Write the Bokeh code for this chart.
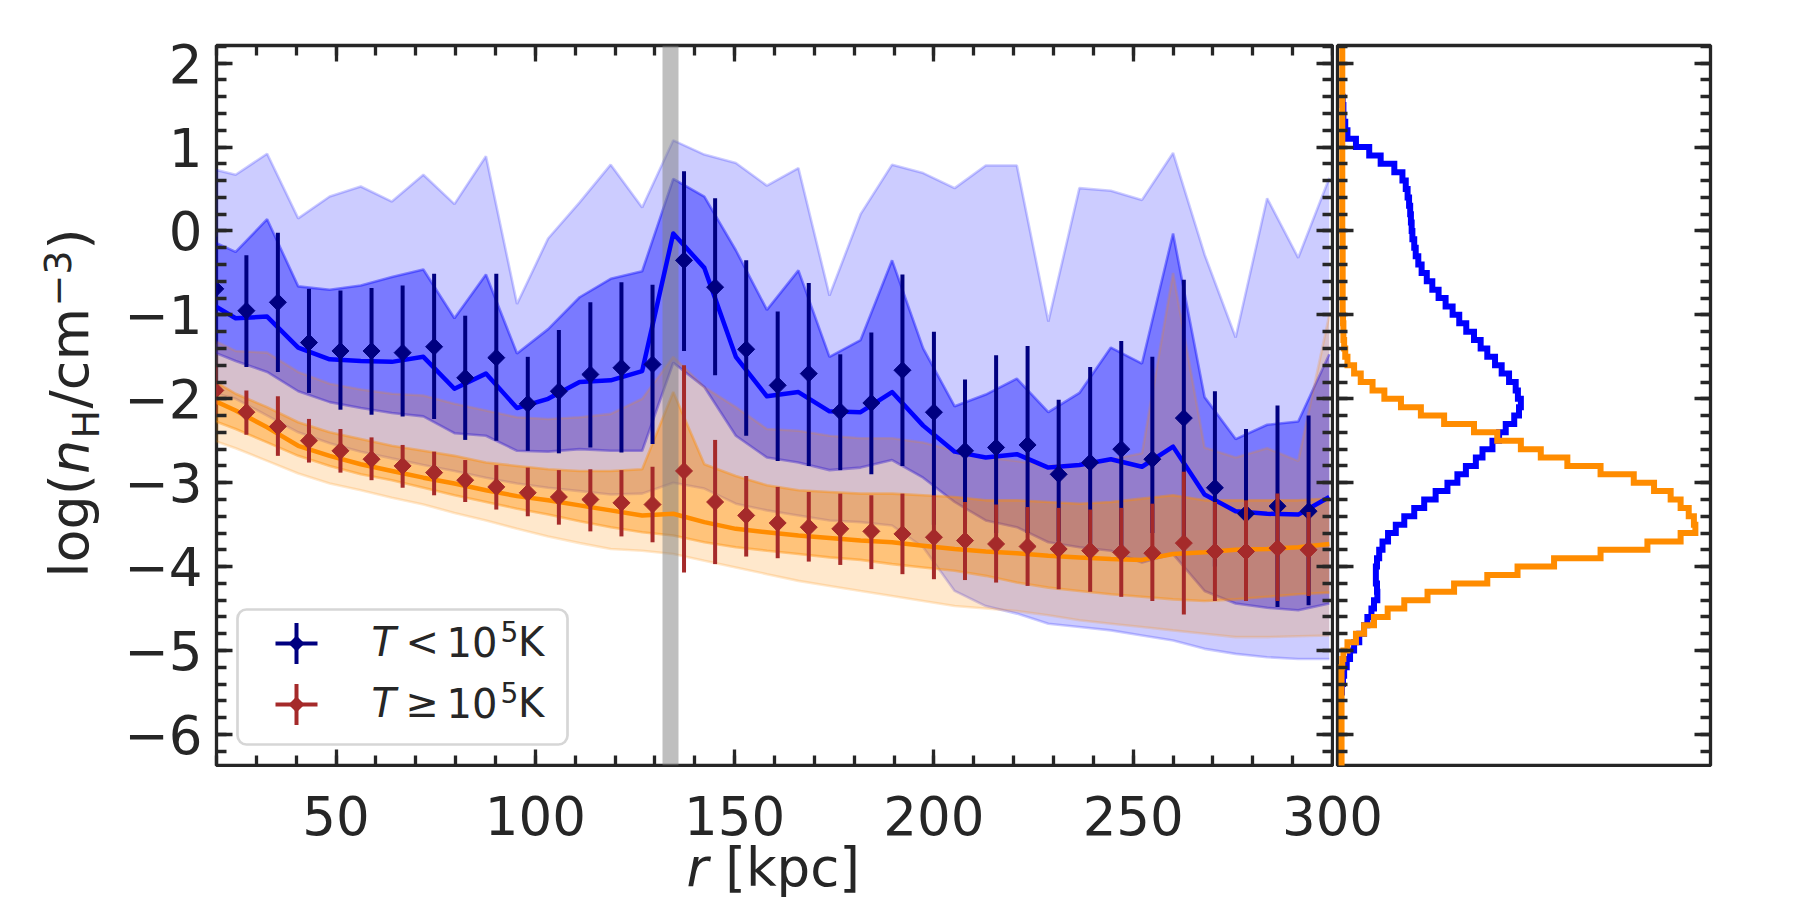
import numpy as np
from bokeh.plotting import figure
from bokeh.models import (Range1d, SingleIntervalTicker, LinearAxis, Label, BoxAnnotation,
                          PolyAnnotation, CustomJSTickFormatter, ColumnDataSource)
from bokeh.layouts import row, column
from bokeh.embed import file_html
from bokeh.resources import INLINE

# ---------------- data ----------------
# radial profile vertices [kpc]
r_profile = [17.0, 24.8, 32.7, 40.5, 48.4, 56.2, 64.0, 71.9, 79.7, 87.6, 95.4, 103.2, 111.1,
             118.9, 126.8, 134.6, 142.4, 150.3, 158.1, 166.0, 173.8, 181.6, 189.5, 197.3,
             205.2, 213.0, 220.8, 228.7, 236.5, 244.4, 252.2, 260.0, 267.9, 275.7, 283.6,
             291.4, 299.2]
# T < 1e5 K : median and percentile bands
cold_median = [-0.82, -1.04, -1.02, -1.39, -1.53, -1.55, -1.56, -1.50, -1.88, -1.70, -2.11, -2.00,
               -1.80, -1.78, -1.67, -0.03, -0.44, -1.50, -1.97, -1.92, -2.15, -2.16, -1.92, -2.32,
               -2.63, -2.70, -2.66, -2.82, -2.79, -2.72, -2.81, -2.57, -3.14, -3.34, -3.37, -3.38, -3.17]
cold_in_hi = [-0.08, -0.25, 0.14, -0.66, -0.70, -0.65, -0.55, -0.46, -1.04, -0.52, -1.46, -1.17,
              -0.79, -0.57, -0.48, 0.62, 0.41, -0.23, -0.94, -0.47, -1.50, -1.30, -0.35, -1.40,
              -2.09, -1.95, -1.76, -2.16, -1.93, -1.39, -1.58, -0.03, -1.98, -2.48, -2.31, -2.27, -1.47]
cold_in_lo = [-1.40, -1.55, -1.68, -1.91, -2.04, -2.11, -2.17, -2.21, -2.41, -2.44, -2.62, -2.63,
              -2.60, -2.62, -2.62, -1.57, -1.86, -2.44, -2.70, -2.76, -2.85, -2.82, -2.73, -2.94,
              -3.23, -3.45, -3.53, -3.71, -3.77, -3.81, -3.95, -3.85, -4.29, -4.44, -4.49, -4.52, -4.44]
cold_out_hi = [0.76, 0.67, 0.92, 0.15, 0.41, 0.53, 0.35, 0.67, 0.32, 0.89, -0.87, -0.09,
               0.34, 0.79, 0.28, 1.08, 0.91, 0.81, 0.54, 0.75, -0.77, 0.20, 0.79, 0.69,
               0.51, 0.78, 0.78, -1.08, 0.51, 0.48, 0.37, 0.93, -0.28, -1.27, 0.39, -0.32, 0.63]
cold_out_lo = [-1.90, -2.00, -2.20, -2.40, -2.53, -2.63, -2.71, -2.79, -2.86, -2.94, -3.01, -3.06,
               -3.10, -3.14, -3.13, -3.00, -3.07, -3.25, -3.33, -3.39, -3.45, -3.47, -3.51, -3.77,
               -4.29, -4.47, -4.56, -4.68, -4.72, -4.76, -4.82, -4.88, -4.98, -5.04, -5.08, -5.10, -5.10]
# T >= 1e5 K : median and percentile bands
hot_median = [-1.97, -2.14, -2.34, -2.56, -2.68, -2.78, -2.86, -2.94, -3.01, -3.09, -3.16, -3.21,
              -3.27, -3.33, -3.39, -3.37, -3.47, -3.55, -3.59, -3.63, -3.66, -3.69, -3.71, -3.75,
              -3.79, -3.82, -3.84, -3.87, -3.89, -3.91, -3.92, -3.85, -3.83, -3.80, -3.79, -3.77, -3.73]
hot_in_hi = [-1.72, -1.94, -2.10, -2.28, -2.40, -2.48, -2.56, -2.62, -2.68, -2.76, -2.80, -2.84,
             -2.86, -2.86, -2.84, -1.92, -2.78, -2.92, -3.03, -3.09, -3.11, -3.13, -3.13, -3.15,
             -3.17, -3.21, -3.21, -3.23, -3.25, -3.23, -3.19, -3.15, -3.21, -3.21, -3.21, -3.21, -3.19]
hot_in_lo = [-2.22, -2.36, -2.52, -2.68, -2.80, -2.90, -2.97, -3.06, -3.15, -3.23, -3.31, -3.38,
             -3.46, -3.53, -3.59, -3.63, -3.71, -3.77, -3.81, -3.85, -3.89, -3.92, -3.97, -4.01,
             -4.05, -4.11, -4.19, -4.25, -4.29, -4.33, -4.36, -4.39, -4.41, -4.39, -4.36, -4.33, -4.31]
hot_out_hi = [-1.25, -1.43, -1.45, -1.68, -1.82, -1.89, -1.94, -1.96, -2.06, -2.14, -2.22, -2.24,
              -2.22, -2.18, -2.00, -1.50, -1.86, -2.10, -2.36, -2.38, -2.44, -2.47, -2.47, -2.52,
              -2.62, -2.70, -2.74, -2.80, -2.78, -2.72, -2.65, -0.50, -2.58, -2.70, -2.59, -2.74, -1.00]
hot_out_lo = [-2.46, -2.59, -2.74, -2.89, -3.01, -3.09, -3.18, -3.26, -3.36, -3.45, -3.55, -3.64,
              -3.72, -3.79, -3.81, -3.85, -3.93, -4.01, -4.09, -4.17, -4.23, -4.29, -4.35, -4.41,
              -4.47, -4.50, -4.53, -4.58, -4.64, -4.68, -4.72, -4.76, -4.80, -4.84, -4.84, -4.83, -4.82]

# error-bar points
r_points = [19.7, 27.5, 35.4, 43.2, 51.1, 58.9, 66.7, 74.6, 82.4, 90.2, 98.1, 105.9, 113.8, 121.6,
            129.4, 137.3, 145.1, 152.9, 160.8, 168.6, 176.5, 184.3, 192.1, 200.0, 207.8, 215.6,
            223.5, 231.3, 239.2, 247.0, 254.8, 262.7, 270.5, 278.3, 286.2, 294.0]
cold_mean = [-0.69, -0.95, -0.85, -1.33, -1.43, -1.43, -1.45, -1.38, -1.75, -1.51, -2.06, -1.91,
             -1.71, -1.63, -1.59, -0.35, -0.67, -1.41, -1.84, -1.70, -2.15, -2.05, -1.66, -2.16,
             -2.62, -2.58, -2.55, -2.90, -2.76, -2.60, -2.72, -2.23, -3.06, -3.37, -3.28, -3.34]
cold_hi = [-0.07, -0.29, -0.02, -0.69, -0.71, -0.68, -0.65, -0.51, -1.01, -0.51, -1.50, -1.18,
           -0.85, -0.61, -0.64, 0.71, 0.39, -0.35, -0.96, -0.62, -1.47, -1.21, -0.52, -1.20,
           -1.77, -1.48, -1.37, -2.01, -1.62, -1.31, -1.50, -0.58, -1.91, -2.36, -2.08, -2.20]
cold_lo = [-1.34, -1.62, -1.68, -1.93, -2.13, -2.19, -2.21, -2.24, -2.49, -2.50, -2.62, -2.65,
           -2.58, -2.64, -2.54, -1.43, -1.72, -2.44, -2.74, -2.80, -2.85, -2.90, -2.80, -3.50,
           -3.50, -3.60, -3.60, -3.70, -3.80, -3.77, -3.60, -3.80, -4.00, -4.20, -4.48, -4.46]
hot_mean = [-1.90, -2.16, -2.33, -2.50, -2.62, -2.72, -2.80, -2.88, -2.97, -3.05, -3.12, -3.17,
            -3.20, -3.24, -3.26, -2.86, -3.23, -3.39, -3.48, -3.53, -3.55, -3.58, -3.61, -3.65,
            -3.69, -3.73, -3.76, -3.79, -3.81, -3.83, -3.84, -3.72, -3.82, -3.82, -3.78, -3.80]
hot_hi = [-1.60, -1.90, -1.97, -2.24, -2.36, -2.46, -2.55, -2.63, -2.73, -2.79, -2.82, -2.85,
          -2.84, -2.85, -2.81, -1.60, -2.49, -2.92, -3.05, -3.11, -3.13, -3.15, -3.13, -3.15,
          -3.23, -3.26, -3.29, -3.30, -3.32, -3.30, -3.25, -2.87, -3.23, -3.21, -3.13, -3.35]
hot_lo = [-2.20, -2.43, -2.68, -2.76, -2.88, -2.97, -3.06, -3.15, -3.23, -3.32, -3.40, -3.50,
          -3.58, -3.64, -3.71, -4.07, -3.97, -3.88, -3.90, -3.94, -3.98, -4.03, -4.09, -4.15,
          -4.16, -4.19, -4.23, -4.27, -4.30, -4.36, -4.41, -4.57, -4.41, -4.41, -4.41, -4.35]

# shaded radius interval [kpc]
shade_lo = [132.0]
shade_hi = [136.0]

# distributions of log n_H (right panel), bins of 0.1 dex, relative height
hist_bin = 0.1
cold_hist_start = -5.5
cold_hist = [0.001, 0.004, 0.007, 0.014, 0.023, 0.034, 0.048, 0.061, 0.070, 0.081,
             0.088, 0.097, 0.096, 0.093, 0.093, 0.096, 0.102, 0.111, 0.126, 0.147,
             0.170, 0.197, 0.224, 0.255, 0.287, 0.314, 0.337, 0.364, 0.382, 0.409,
             0.427, 0.445, 0.468, 0.481, 0.486, 0.478, 0.472, 0.454, 0.434, 0.416,
             0.395, 0.377, 0.359, 0.338, 0.319, 0.301, 0.282, 0.263, 0.246, 0.231,
             0.217, 0.208, 0.201, 0.197, 0.192, 0.190, 0.188, 0.186, 0.183, 0.179,
             0.174, 0.165, 0.143, 0.106, 0.075, 0.039, 0.016, 0.010, 0.005, 0.005, 0.003]
hot_hist_start = -6.4
hot_hist = [0.0, 0.0, 0.0, 0.0, 0.0, 0.0, 0.0, 0.0, 0.0, 0.0, 0.0, 0.0,
            0.002, 0.005, 0.016, 0.039, 0.061, 0.088, 0.125, 0.170, 0.233, 0.305,
            0.395, 0.477, 0.576, 0.702, 0.829, 0.919, 0.959, 0.955, 0.941, 0.919,
            0.892, 0.847, 0.792, 0.702, 0.612, 0.540, 0.486, 0.422, 0.359, 0.278,
            0.215, 0.161, 0.116, 0.084, 0.052, 0.034, 0.016, 0.010, 0.007, 0.005,
            0.005, 0.004,
            0.003, 0.003, 0.003, 0.003, 0.003, 0.003, 0.003, 0.003, 0.003, 0.003,
            0.002, 0.002, 0.002, 0.002, 0.002, 0.002, 0.002, 0.002, 0.002, 0.002, 0.002,
            0.002, 0.002, 0.002, 0.002, 0.002, 0.002, 0.002, 0.002, 0.002, 0.002, 0.002]

x_major = 50
y_major = 1
n_minor = 5

# ---------------- style ----------------
INK = "#262626"
FONT = "DejaVu Sans"
BLUE = "#0000ff"
ORANGE = "#ff8c00"
NAVY = "#000080"
BROWN = "#a52a2a"
TICK_FS = "53px"
BL = 0.38   # empirical baseline correction (fraction of font size)

x_range = Range1d(20, 300)
y_range = Range1d(-6.37, 2.21)

minus_fmt = "return tick < 0 ? '\\u2212' + Math.abs(tick) : String(tick);"


def setup_axis(ax, ticker, show_labels, fmt=None):
    ax.ticker = ticker
    ax.axis_line_color = None
    ax.major_tick_in = 16
    ax.major_tick_out = 0
    ax.minor_tick_in = 10
    ax.minor_tick_out = 0
    ax.major_tick_line_color = INK
    ax.minor_tick_line_color = INK
    ax.major_tick_line_width = 3.3
    ax.minor_tick_line_width = 3.3
    ax.major_label_text_font = FONT
    if show_labels:
        ax.major_label_text_color = INK
        ax.major_label_text_font_size = TICK_FS
        if fmt is not None:
            ax.formatter = fmt
    else:
        ax.major_label_text_color = None
        ax.major_label_standoff = 0


def txt(fig, x, y, s, size, italic=False, align="left", angle=0.0):
    fig.add_layout(Label(x=x, y=y, x_units="screen", y_units="screen", text=s,
                         text_font=FONT, text_font_size="%gpx" % size, text_color=INK,
                         text_font_style="italic" if italic else "normal",
                         text_align=align, text_baseline="alphabetic", angle=angle))


def hlabel(fig, x, base_y, s, size, italic=False):
    txt(fig, x, base_y + BL * size, s, size, italic=italic)


def vlabel(fig, base_x, y, s, size, italic=False):
    txt(fig, base_x - BL * size, y, s, size, italic=italic, angle=np.pi / 2)


def blank(fig):
    fig.grid.visible = False
    fig.outline_line_color = None


# ---------------- main panel ----------------
p = figure(x_range=x_range, y_range=y_range, frame_width=1116, frame_height=720,
           min_border_left=108, min_border_right=2, min_border_top=45, min_border_bottom=2,
           output_backend="svg", toolbar_location=None,
           background_fill_color="white", border_fill_color="white")
p.grid.visible = False
p.outline_line_color = INK
p.outline_line_width = 3.3

setup_axis(p.xaxis[0], SingleIntervalTicker(interval=x_major, num_minor_ticks=n_minor), False)
setup_axis(p.yaxis[0], SingleIntervalTicker(interval=y_major, num_minor_ticks=n_minor), True,
           CustomJSTickFormatter(code=minus_fmt))
p.yaxis[0].major_label_standoff = 14
ax_top = LinearAxis()
setup_axis(ax_top, SingleIntervalTicker(interval=x_major, num_minor_ticks=n_minor), False)
p.add_layout(ax_top, "above")
ax_right = LinearAxis()
setup_axis(ax_right, SingleIntervalTicker(interval=y_major, num_minor_ticks=n_minor), False)
p.add_layout(ax_right, "right")

prof = ColumnDataSource(dict(r=r_profile, cm=cold_median, cih=cold_in_hi, cil=cold_in_lo,
                             coh=cold_out_hi, col=cold_out_lo, hm=hot_median, hih=hot_in_hi,
                             hil=hot_in_lo, hoh=hot_out_hi, hol=hot_out_lo))


def band(lo, hi, color, alpha):
    p.varea(x="r", y1=lo, y2=hi, source=prof, fill_color=color, fill_alpha=alpha)
    for col in (lo, hi):
        p.line(x="r", y=col, source=prof, line_color=color, line_alpha=alpha, line_width=2.6)


band("col", "coh", BLUE, 0.2)
band("cil", "cih", BLUE, 0.4)
band("hol", "hoh", ORANGE, 0.2)
band("hil", "hih", ORANGE, 0.4)

p.vstrip(x0=shade_lo, x1=shade_hi, fill_color="gray", fill_alpha=0.5, line_color=None)

p.line(x="r", y="cm", source=prof, line_color=BLUE, line_width=4.5, line_join="round")
p.line(x="r", y="hm", source=prof, line_color=ORANGE, line_width=4.5, line_join="round")

pts = ColumnDataSource(dict(r=r_points, cmean=cold_mean, chi=cold_hi, clo=cold_lo,
                            hmean=hot_mean, hhi=hot_hi, hlo=hot_lo))
p.segment(x0="r", y0="clo", x1="r", y1="chi", source=pts, line_color=NAVY, line_width=4)
p.scatter(x="r", y="cmean", source=pts, marker="square", angle=np.pi / 4, size=12,
          fill_color=NAVY, line_color=NAVY)
p.segment(x0="r", y0="hlo", x1="r", y1="hhi", source=pts, line_color=BROWN, line_width=4)
p.scatter(x="r", y="hmean", source=pts, marker="square", angle=np.pi / 4, size=12,
          fill_color=BROWN, line_color=BROWN)

# ---- legend (screen units relative to the frame) ----
p.add_layout(BoxAnnotation(left=21, right=351, bottom=21, top=156,
                           left_units="screen", right_units="screen",
                           bottom_units="screen", top_units="screen",
                           fill_color="white", fill_alpha=0.8, line_color="#cccccc",
                           line_alpha=0.8, line_width=2.7, border_radius=9))
for cy, col in ((122, NAVY), (61, BROWN)):
    p.add_layout(BoxAnnotation(left=59, right=101, bottom=cy - 2, top=cy + 2,
                               left_units="screen", right_units="screen",
                               bottom_units="screen", top_units="screen",
                               fill_color=col, fill_alpha=1.0, line_color=None))
    p.add_layout(BoxAnnotation(left=78, right=82, bottom=cy - 20.5, top=cy + 20.5,
                               left_units="screen", right_units="screen",
                               bottom_units="screen", top_units="screen",
                               fill_color=col, fill_alpha=1.0, line_color=None))
    p.add_layout(PolyAnnotation(xs=[72, 80, 88, 80], ys=[cy, cy + 8, cy, cy - 8],
                                xs_units="screen", ys_units="screen",
                                fill_color=col, fill_alpha=1.0, line_color=None))

for by, rel in ((108, "<"), (47, "\u2265")):
    hlabel(p, 155, by, "T", 40, italic=True)
    hlabel(p, 189, by, rel, 40)
    hlabel(p, 230, by, "10", 40)
    hlabel(p, 284, by + 15, "5", 28)
    hlabel(p, 301.5, by, "K", 40)

# ---------------- right panel: distributions ----------------
h = figure(x_range=Range1d(-0.011, 1.0), y_range=y_range, frame_width=373, frame_height=720,
           min_border_left=3, min_border_right=10, min_border_top=45, min_border_bottom=2,
           output_backend="svg", toolbar_location=None,
           background_fill_color="white", border_fill_color="white")
h.grid.visible = False
h.outline_line_color = INK
h.outline_line_width = 3.3
h.xaxis.visible = False
setup_axis(h.yaxis[0], SingleIntervalTicker(interval=y_major, num_minor_ticks=n_minor), False)
h_right = LinearAxis()
setup_axis(h_right, SingleIntervalTicker(interval=y_major, num_minor_ticks=n_minor), False)
h.add_layout(h_right, "right")


def step_path(start, counts):
    counts = np.asarray(counts, dtype=float)
    edges = start + hist_bin * np.arange(len(counts) + 1)
    xs = np.concatenate([[0.0], np.repeat(counts, 2), [0.0]])
    ys = np.repeat(edges, 2)
    return xs, ys


cx, cy_ = step_path(cold_hist_start, cold_hist)
hx, hy = step_path(hot_hist_start, hot_hist)
h.line(x=cx, y=cy_, line_color=BLUE, line_width=6, line_join="miter")
h.line(x=hx, y=hy, line_color=ORANGE, line_width=6, line_join="miter")

# ---------------- y-axis title strip ----------------
ylab = figure(x_range=Range1d(0, 1), y_range=Range1d(0, 1), width=108, height=767,
              min_border=0, x_axis_location=None, y_axis_location=None,
              output_backend="svg", toolbar_location=None,
              background_fill_color="white", border_fill_color="white")
blank(ylab)
vlabel(ylab, 90, 188, "log(", 54)
vlabel(ylab, 90, 291.4, "n", 54, italic=True)
vlabel(ylab, 100, 327, "H", 38)
vlabel(ylab, 90, 357, "/cm", 54)
vlabel(ylab, 71, 459, "\u22123", 38)
vlabel(ylab, 90, 516, ")", 54)

# ---------------- x tick labels and x-axis title strip ----------------
xb = figure(x_range=x_range, y_range=Range1d(0, 1), frame_width=1116, frame_height=65,
            min_border_left=216, min_border_right=100, min_border_top=67, min_border_bottom=0,
            x_axis_location="above", y_axis_location=None,
            output_backend="svg", toolbar_location=None,
            background_fill_color="white", border_fill_color="white")
blank(xb)
xa = xb.xaxis[0]
xa.ticker = SingleIntervalTicker(interval=x_major, num_minor_ticks=n_minor)
xa.axis_line_color = None
xa.major_tick_line_color = None
xa.minor_tick_line_color = None
xa.major_tick_in = 0
xa.major_tick_out = 0
xa.minor_tick_in = 0
xa.minor_tick_out = 0
xa.major_label_standoff = 0
xa.major_label_text_font = FONT
xa.major_label_text_font_size = TICK_FS
xa.major_label_text_color = INK
hlabel(xb, 470, 12, "r", 53, italic=True)
hlabel(xb, 508.7, 12, "[kpc]", 53)

layout = column(row(ylab, p, h), xb)
open("out.html", "w").write(file_html(layout, INLINE))
